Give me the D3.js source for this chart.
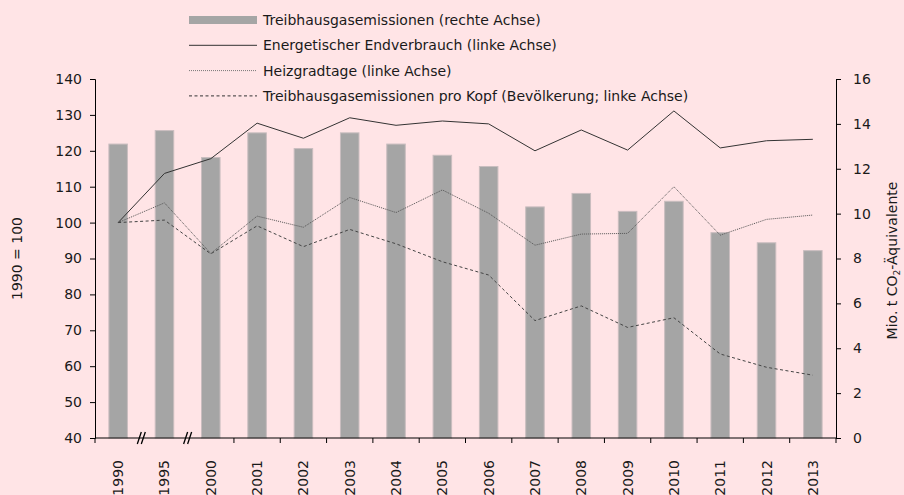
<!DOCTYPE html>
<html lang="de">
  <head>
    <meta charset="UTF-8" />
    <title>Treibhausgasemissionen</title>
    <script src="https://d3js.org/d3.v7.min.js"></script>
    <style>
      body { margin: 0; background: #ffe4e6; }
      text { font-family: "DejaVu Sans", sans-serif; fill: #1a1a1a; }
    </style>
  </head>
  <body>
    <div id="chart"></div>
    <script>
      // categories and series
      const years = ["1990", "1995", "2000", "2001", "2002", "2003", "2004", "2005",
        "2006", "2007", "2008", "2009", "2010", "2011", "2012", "2013"];
      const emissions = [13.1, 13.7, 12.5, 13.6, 12.9, 13.6, 13.1, 12.6,
        12.1, 10.3, 10.9, 10.1, 10.55, 9.15, 8.7, 8.35];
      const endverbrauch = [100, 113.7, 117.8, 127.7, 123.5, 129.2, 127.1, 128.3,
        127.5, 120.0, 125.8, 120.2, 131.1, 120.8, 122.8, 123.2];
      const heizgradtage = [100, 105.5, 91.4, 101.8, 98.7, 107.0, 102.8, 109.1,
        102.6, 93.7, 96.8, 97.0, 110.0, 96.5, 100.9, 102.1];
      const proKopf = [100, 100.7, 91.3, 99.1, 93.3, 98.1, 94.1, 89.1,
        85.4, 72.7, 76.8, 70.8, 73.5, 63.4, 59.7, 57.5];
      const leftTicks = [40, 50, 60, 70, 80, 90, 100, 110, 120, 130, 140];
      const rightTicks = [0, 2, 4, 6, 8, 10, 12, 14, 16];

      const W = 904, H = 495;
      const margin = { top: 79, right: 68, bottom: 57, left: 95 };

      const svg = d3.select("#chart").append("svg")
        .attr("width", W).attr("height", H);

      const x = d3.scaleBand()
        .domain(years)
        .range([margin.left, W - margin.right])
        .paddingInner(0.6)
        .paddingOuter(0.3);

      const yL = d3.scaleLinear().domain([40, 140]).range([H - margin.bottom, margin.top]);
      const yR = d3.scaleLinear().domain([0, 16]).range([H - margin.bottom, margin.top]);

      // bars
      svg.append("g").selectAll("rect")
        .data(emissions)
        .join("rect")
        .attr("x", (d, i) => x(years[i]))
        .attr("y", d => yR(d))
        .attr("width", x.bandwidth())
        .attr("height", d => yR(0) - yR(d))
        .attr("fill", "#a5a5a5")
        .attr("stroke", "#c9bdbf")
        .attr("stroke-width", 1);

      // lines
      const cx = (d, i) => x(years[i]) + x.bandwidth() / 2;
      const line = d3.line().x(cx).y(d => yL(d));

      svg.append("path").datum(endverbrauch)
        .attr("d", line).attr("fill", "none")
        .attr("stroke", "#333").attr("stroke-width", 1);
      svg.append("path").datum(heizgradtage)
        .attr("d", line).attr("fill", "none")
        .attr("stroke", "#555").attr("stroke-width", 1)
        .attr("stroke-dasharray", "1,1");
      svg.append("path").datum(proKopf)
        .attr("d", line).attr("fill", "none")
        .attr("stroke", "#444").attr("stroke-width", 1)
        .attr("stroke-dasharray", "3,2.5");

      // axes
      const axL = svg.append("g")
        .attr("transform", `translate(${margin.left},0)`)
        .call(d3.axisLeft(yL).tickValues(leftTicks).tickSize(5).tickPadding(8));
      const axR = svg.append("g")
        .attr("transform", `translate(${W - margin.right},0)`)
        .call(d3.axisRight(yR).tickValues(rightTicks).tickSize(5).tickPadding(12));
      [axL, axR].forEach(a => {
        a.selectAll("path, line").attr("stroke", "#000");
        a.selectAll("text").attr("font-size", 14).attr("font-family", "DejaVu Sans");
      });

      // bottom axis line with ticks at band boundaries
      const bottomY = H - margin.bottom;
      svg.append("line")
        .attr("x1", margin.left).attr("x2", W - margin.right)
        .attr("y1", bottomY).attr("y2", bottomY)
        .attr("stroke", "#000");
      const step = x.step();
      const bounds = d3.range(years.length + 1).map(i => margin.left + i * step);
      svg.append("g").selectAll("line")
        .data(bounds.filter((b, i) => i !== 1 && i !== 2))
        .join("line")
        .attr("x1", d => d).attr("x2", d => d)
        .attr("y1", bottomY).attr("y2", bottomY + 5)
        .attr("stroke", "#000");

      // axis break marks
      const breaks = svg.append("g");
      [bounds[1], bounds[2]].forEach(b => {
        [-2, 2].forEach(off => {
          breaks.append("line")
            .attr("x1", b + off - 2).attr("y1", bottomY + 6)
            .attr("x2", b + off + 2).attr("y2", bottomY - 6)
            .attr("stroke", "#000").attr("stroke-width", 1.3);
        });
      });

      // x labels
      svg.append("g").selectAll("text")
        .data(years)
        .join("text")
        .attr("transform", d => `translate(${x(d) + x.bandwidth() / 2 + 5},${bottomY + 22}) rotate(-90)`)
        .attr("text-anchor", "end")
        .attr("font-size", 14)
        .text(d => d);

      // axis titles
      svg.append("text")
        .attr("transform", `translate(22,${(margin.top + bottomY) / 2}) rotate(-90)`)
        .attr("text-anchor", "middle")
        .attr("font-size", 14)
        .text("1990 = 100");

      const rt = svg.append("text")
        .attr("transform", `translate(897,${(margin.top + bottomY) / 2 + 2}) rotate(-90)`)
        .attr("text-anchor", "middle")
        .attr("font-size", 14);
      rt.append("tspan").text("Mio. t CO");
      rt.append("tspan").attr("font-size", 9).attr("dy", 3).text("2");
      rt.append("tspan").attr("dy", -3).text("-Äquivalente");

      // legend
      const legendItems = [
        { label: "Treibhausgasemissionen (rechte Achse)", type: "bar" },
        { label: "Energetischer Endverbrauch (linke Achse)", type: "solid" },
        { label: "Heizgradtage (linke Achse)", type: "dot" },
        { label: "Treibhausgasemissionen pro Kopf (Bevölkerung; linke Achse)", type: "dash" }
      ];
      const lg = svg.append("g").attr("transform", "translate(189,20)");
      legendItems.forEach((it, i) => {
        const g = lg.append("g").attr("transform", `translate(0,${i * 25.3})`);
        if (it.type === "bar") {
          g.append("rect").attr("x", 0).attr("y", -4).attr("width", 68).attr("height", 8)
            .attr("fill", "#a5a5a5");
        } else {
          g.append("line").attr("x1", 0).attr("x2", 68).attr("y1", 0).attr("y2", 0)
            .attr("stroke", it.type === "dot" ? "#777" : "#333")
            .attr("stroke-width", 1)
            .attr("stroke-dasharray", it.type === "dot" ? "1,1" : it.type === "dash" ? "3,2.5" : null);
        }
        g.append("text").attr("x", 74).attr("y", 5).attr("font-size", 14).text(it.label);
      });
    </script>
  </body>
</html>
